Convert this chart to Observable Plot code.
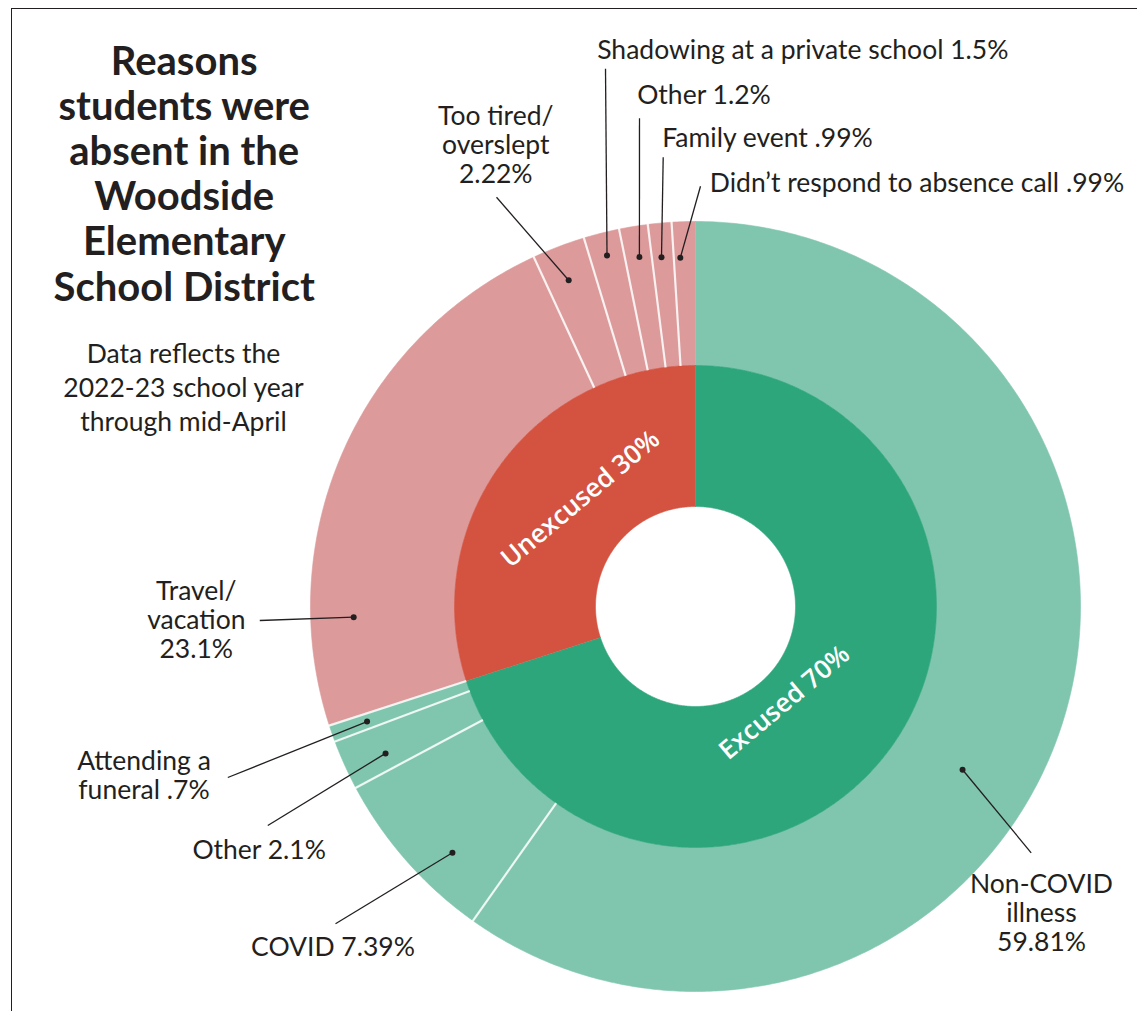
<!DOCTYPE html>
<html>
<head>
<meta charset="utf-8">
<script src="https://cdn.jsdelivr.net/npm/d3@7"></script>
<script src="https://cdn.jsdelivr.net/npm/@observablehq/plot@0.6"></script>
<style>
  body { margin: 0; background: #fff; }
  #wrap { position: relative; width: 1137px; height: 1011px; overflow: hidden; }
  #frame { position: absolute; left: 11px; top: 8px; width: 1200px; height: 1100px;
           border-top: 1.6px solid #231f20; border-left: 1.6px solid #231f20; }
  #wrap svg { position: absolute; left: 0; top: 0; }
</style>
</head>
<body>
<div id="wrap"><div id="frame"></div></div>
<script>
// ---------- DATA ----------
const groups = ["Excused", "Unexcused"];
const groupValues = [70, 30];
const groupLabels = ["Excused 70%", "Unexcused 30%"];

const reasons = ["Non-COVID illness", "COVID", "Other", "Attending a funeral",
  "Travel/vacation", "Too tired/overslept", "Shadowing at a private school",
  "Other", "Family event", "Didn’t respond to absence call"];
const reasonGroups = ["Excused", "Excused", "Excused", "Excused",
  "Unexcused", "Unexcused", "Unexcused", "Unexcused", "Unexcused", "Unexcused"];
const reasonValues = [59.81, 7.39, 2.1, 0.7, 23.1, 2.22, 1.5, 1.2, 0.99, 0.99];
const reasonLabels = ["Non-COVID\nillness\n59.81%", "COVID 7.39%", "Other 2.1%",
  "Attending a\nfuneral .7%", "Travel/\nvacation\n23.1%", "Too tired/\noverslept\n2.22%",
  "Shadowing at a private school 1.5%", "Other 1.2%", "Family event .99%",
  "Didn’t respond to absence call .99%"];

const titleText = "Reasons\nstudents were\nabsent in the\nWoodside\nElementary\nSchool District";
const subtitleText = "Data reflects the\n2022-23 school year\nthrough mid-April";

// ---------- LAYOUT / STYLE ----------
const R0 = 100, R1 = 241, R2 = 385;
const innerColors = {Excused: "#2ea67c", Unexcused: "#d45240"};
const outerColors = {Excused: "#80c6ae", Unexcused: "#dc9a9b"};
const ink = "#231f20";
// label layout (in chart units, relative to pie centre): dot position inside slice,
// text position, leader-line end
const labelLayout = [
  {frac: 0.564, r: 313, tx: 346, ty: 344.7, lx: 335.7, ly: 246.3, anchor: "middle"},
  {frac: 0.35, r: 346, tx: -362.5, ty: 349, lx: -360, ly: 317.3, anchor: "middle"},
  {frac: 0.36, r: 343, tx: -436.3, ty: 252.3, lx: -427.7, ly: 219, anchor: "middle"},
  {frac: 0.48, r: 348, tx: -551.5, ty: 192.3, lx: -467.7, ly: 171, anchor: "middle"},
  {frac: 0.195, r: 342, tx: -499.2, ty: 51.7, lx: -435.7, ly: 14, anchor: "middle"},
  {frac: 0.45, r: 350, tx: -199.7, ty: -423.7, lx: -199, ly: -409.3, anchor: "middle"},
  {frac: 0.5, r: 362, tx: -98.3, ty: -547.7, lx: -90, ly: -537.7, anchor: "start"},
  {frac: 0.54, r: 354, tx: -58.3, ty: -502.7, lx: -56, ly: -488.3, anchor: "start"},
  {frac: 0.44, r: 351, tx: -33.3, ty: -459.3, lx: -32.3, ly: -449.3, anchor: "start"},
  {frac: 0.3, r: 349, tx: 14.3, ty: -414.3, lx: 5, ly: -420.3, anchor: "start"}
];
const groupLabelLayout = [
  {x: 89, y: 96, rotate: -40},
  {x: -115, y: -107.5, rotate: -40}
];

// ---------- GEOMETRY ----------
const total = d3.sum(reasonValues);
const ang = v => v / total * 2 * Math.PI;
const px = (r, a) => r * Math.sin(a);
const py = (r, a) => -r * Math.cos(a);

function arcPoints(a0, a1, r0, r1) {
  const n = Math.max(2, Math.ceil((a1 - a0) / (Math.PI / 360)));
  const pts = [];
  for (let i = 0; i <= n; i++) { const a = a0 + (a1 - a0) * i / n; pts.push({x: px(r1, a), y: py(r1, a)}); }
  for (let i = n; i >= 0; i--) { const a = a0 + (a1 - a0) * i / n; pts.push({x: px(r0, a), y: py(r0, a)}); }
  return pts;
}

// inner ring
let acc = 0;
const innerSlices = groups.map((g, i) => {
  const a0 = ang(acc); acc += groupValues[i]; const a1 = ang(acc);
  return {group: g, a0, a1, pts: arcPoints(a0, a1, R0, R1), color: innerColors[g]};
});
// outer ring
acc = 0;
const outerSlices = reasons.map((name, i) => {
  const a0 = ang(acc); acc += reasonValues[i]; const a1 = ang(acc);
  return {name, group: reasonGroups[i], a0, a1, pts: arcPoints(a0, a1, R1, R2),
          color: outerColors[reasonGroups[i]], label: reasonLabels[i], lay: labelLayout[i]};
});

const separators = outerSlices.slice(0, -1).map(s => ({
  x1: px(R1, s.a1), y1: py(R1, s.a1), x2: px(R2 + 2, s.a1), y2: py(R2 + 2, s.a1)
}));

const labels = outerSlices.map(s => {
  const a = s.a0 + (s.a1 - s.a0) * s.lay.frac;
  return {text: s.label, dx: px(s.lay.r, a), dy: py(s.lay.r, a),
          tx: s.lay.tx, ty: s.lay.ty, lx: s.lay.lx, ly: s.lay.ly, anchor: s.lay.anchor};
});

const groupText = groups.map((g, i) => ({text: groupLabels[i], ...groupLabelLayout[i]}));

// ---------- PLOT ----------
const font = "Lato, 'Source Sans Pro', sans-serif";
const marks = [];
for (const s of [...outerSlices, ...innerSlices]) {
  marks.push(Plot.line(s.pts, {x: "x", y: "y", fill: s.color, stroke: s.color, strokeWidth: 0.6}));
}
marks.push(Plot.link(separators, {x1: "x1", y1: "y1", x2: "x2", y2: "y2", stroke: "#ffffff", strokeWidth: 2.2, strokeOpacity: 0.85}));
marks.push(Plot.link(labels, {x1: "dx", y1: "dy", x2: "lx", y2: "ly", stroke: ink, strokeWidth: 1.3}));
marks.push(Plot.dot(labels, {x: "dx", y: "dy", r: 3, fill: ink, stroke: null}));
marks.push(Plot.text(labels.filter(d => d.anchor === "middle"), {x: "tx", y: "ty", text: "text",
  textAnchor: "middle", lineAnchor: "bottom", lineHeight: 1.1, fontSize: 26.5, fill: ink, fontFamily: font}));
marks.push(Plot.text(labels.filter(d => d.anchor === "start"), {x: "tx", y: "ty", text: "text",
  textAnchor: "start", lineAnchor: "bottom", fontSize: 26.5, fill: ink, fontFamily: font}));
marks.push(Plot.text(groupText, {x: "x", y: "y", text: "text", rotate: "rotate",
  fontSize: 26, fontWeight: 600, fill: "#ffffff", fontFamily: "'Open Sans', sans-serif"}));
marks.push(Plot.text([titleText], {x: -511.3, y: -306, text: d => d, textAnchor: "middle",
  lineAnchor: "bottom", lineHeight: 1.13, fontSize: 40, fontWeight: 700, fill: ink, fontFamily: font}));
marks.push(Plot.text([subtitleText], {x: -512, y: -176, text: d => d, textAnchor: "middle",
  lineAnchor: "bottom", lineHeight: 1.28, fontSize: 26.5, fill: ink, fontFamily: font}));

const chart = Plot.plot({
  width: 1137,
  height: 1011,
  margin: 0,
  x: {domain: [-695, 442], axis: null},
  y: {domain: [-606, 405], reverse: true, axis: null},
  style: {background: "transparent", fontFamily: font},
  marks
});
document.getElementById("wrap").appendChild(chart);
</script>
</body>
</html>
